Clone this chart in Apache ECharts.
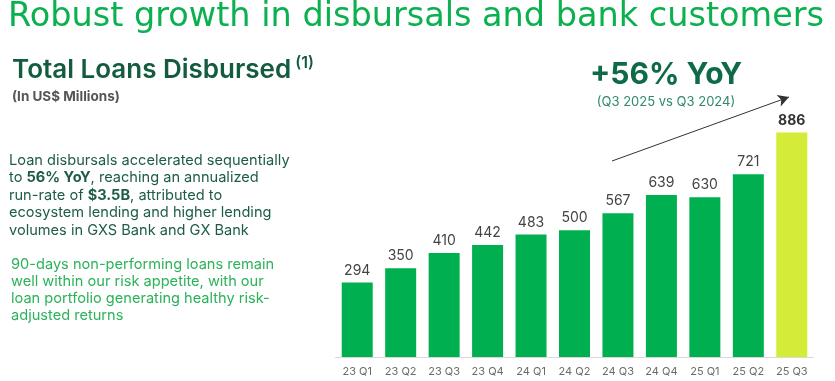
<!DOCTYPE html>
<html>
<head>
<meta charset="utf-8">
<script src="https://cdn.jsdelivr.net/npm/echarts@6/dist/echarts.min.js"></script>
<style>
html,body{margin:0;padding:0;background:#fff;}
#c{width:835px;height:381px;}
</style>
</head>
<body>
<div id="c"></div>
<script>
var categories = ['23 Q1','23 Q2','23 Q3','23 Q4','24 Q1','24 Q2','24 Q3','24 Q4','25 Q1','25 Q2','25 Q3'];
var loansDisbursed = [294,350,410,442,483,500,567,639,630,721,886];
var highlightIndex = 10;

var chart = echarts.init(document.getElementById('c'), null, {renderer:'canvas'});

var seriesData = loansDisbursed.map(function(v,i){
  if(i===highlightIndex){
    return {value:v, itemStyle:{color:'#D4EC37'}, label:{fontWeight:'bold', color:'#333333'}};
  }
  return v;
});

var option = {
  animation:false,
  backgroundColor:'#ffffff',
  grid:{left:335.5, right:21.5, top:103.5, bottom:24, containLabel:false},
  xAxis:{
    type:'category', data:categories,
    axisLine:{show:true, lineStyle:{color:'#D9D9D9', width:1}},
    axisTick:{show:false},
    axisLabel:{color:'#6B6B6B', fontSize:11, fontFamily:'Inter', margin:9}
  },
  yAxis:{type:'value', min:0, max:1000, show:false, splitLine:{show:false}},
  series:[{
    type:'bar', data:seriesData, barWidth:31,
    itemStyle:{color:'#00B050'},
    label:{show:true, position:'top', distance:5, color:'#444444', fontSize:14, fontFamily:'Inter'},
    markLine:{
      silent:true, symbol:['none','arrow'], symbolSize:[9,11],
      label:{show:false},
      lineStyle:{color:'#333333', width:1, type:'solid'},
      data:[[{x:612, y:161},{x:789, y:97}]]
    }
  }],
  graphic:[
    {type:'text', left:8, top:0, style:{text:'Robust growth in disbursals and bank customers', fill:'#0BB04F', font:'33.5px "DejaVu Sans"'}},
    {type:'text', left:12, top:55, style:{text:'{t|Total Loans Disbursed}{s|(1)}', rich:{
      t:{fill:'#145C3D', fontSize:26, fontWeight:600, fontFamily:'Inter', verticalAlign:'bottom'},
      s:{fill:'#145C3D', fontSize:16, fontWeight:600, fontFamily:'Inter', verticalAlign:'top', padding:[0,0,12,4]}
    }}},
    {type:'text', left:12, top:90, style:{text:'(In US$ Millions)', fill:'#555555', font:'bold 13.5px Inter'}},
    {type:'text', left:9, top:153, style:{
      text:'{a|Loan disbursals accelerated sequentially}\n{a|to }{b|56% YoY}{a|, reaching an annualized}\n{a|run-rate of }{b|$3.5B}{a|, attributed to}\n{a|ecosystem lending and higher lending}\n{a|volumes in GXS Bank and GX Bank}',
      rich:{
        a:{fill:'#1D5C48', fontSize:14.6, fontFamily:'Inter', lineHeight:17.5},
        b:{fill:'#1D5C48', fontSize:14.6, fontFamily:'Inter', fontWeight:'bold', lineHeight:17.5}
      }
    }},
    {type:'text', left:11, top:255.5, style:{
      text:'90-days non-performing loans remain\nwell within our risk appetite, with our\nloan portfolio generating healthy risk-\nadjusted returns',
      fill:'#2BB35A', fontSize:14.6, fontFamily:'Inter', lineHeight:17.3
    }},
    {type:'text', x:666, y:75, style:{text:'+56% YoY', fill:'#0E6B47', font:'bold 30px Inter', align:'center', verticalAlign:'middle'}},
    {type:'text', x:666, y:102, style:{text:'(Q3 2025 vs Q3 2024)', fill:'#2E8A68', font:'13px Inter', align:'center', verticalAlign:'middle'}}
  ]
};
chart.setOption(option);
</script>
</body>
</html>
